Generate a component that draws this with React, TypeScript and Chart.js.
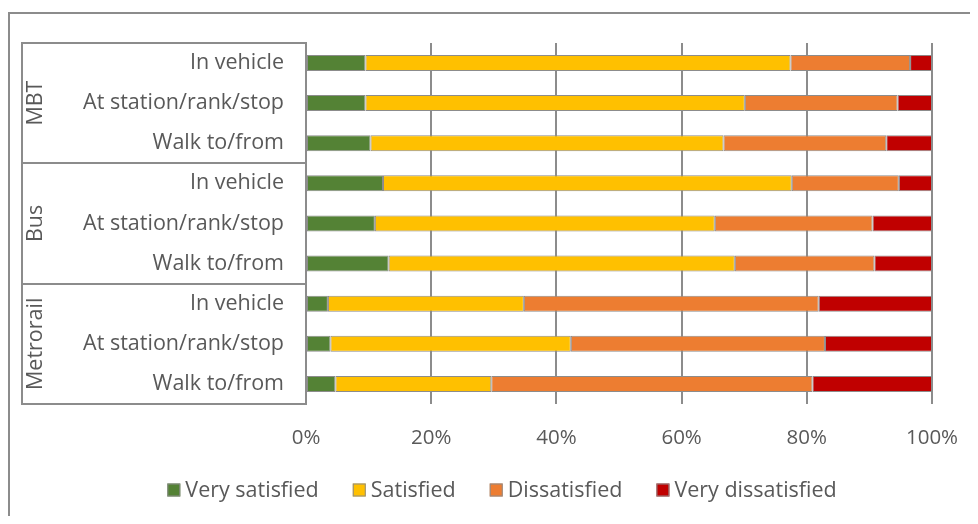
import React, { useEffect, useRef } from "react";
import { Chart, registerables } from "chart.js";

Chart.register(...registerables);

// Rows of the stacked bars, top to bottom
const categories = [
  "In vehicle", "At station/rank/stop", "Walk to/from",
  "In vehicle", "At station/rank/stop", "Walk to/from",
  "In vehicle", "At station/rank/stop", "Walk to/from",
];
// Transport modes, each spanning three consecutive rows
const groups = ["MBT", "Bus", "Metrorail"];
const rowsPerGroup = 3;

// Shares of respondents (%)
const verySatisfied = [9.5, 9.5, 10.3, 12.3, 11.0, 13.2, 3.5, 3.9, 4.7];
const satisfied = [67.9, 60.6, 56.4, 65.3, 54.3, 55.3, 31.3, 38.4, 24.9];
const dissatisfied = [19.1, 24.4, 26.0, 17.1, 25.2, 22.3, 47.1, 40.6, 51.3];
const veryDissatisfied = [3.5, 5.5, 7.3, 5.3, 9.5, 9.2, 18.1, 17.1, 19.1];

const seriesNames = ["Very satisfied", "Satisfied", "Dissatisfied", "Very dissatisfied"];
const seriesColors = ["#548235", "#FFC000", "#ED7D31", "#C00000"];

const xTicks = [0, 20, 40, 60, 80, 100];

const FONT = "'Open Sans', Lato, sans-serif";
const FONT_SIZE = 21.5;
const TICK_SIZE = 20.5;
const TEXT = "#595959";
const LINE = "#8c8c8c";
const W = 962;
const H = 508;

// Outer frame, grouped category axis and legend drawn around the plot
const decorations = {
  id: "decorations",
  beforeDraw(chart: any) {
    const ctx = chart.ctx;
    ctx.save();
    ctx.fillStyle = "#ffffff";
    ctx.fillRect(0, 0, W, H);
    ctx.strokeStyle = LINE;
    ctx.lineWidth = 2;
    ctx.beginPath();
    ctx.moveTo(1, H);
    ctx.lineTo(1, 5);
    ctx.lineTo(W, 5);
    ctx.stroke();
    ctx.restore();
  },
  afterDraw(chart: any) {
    const ctx = chart.ctx;
    const y = chart.scales.y;
    const area = chart.chartArea;
    const leftX = 14;
    ctx.save();
    ctx.strokeStyle = LINE;
    ctx.lineWidth = 2;
    ctx.beginPath();
    ctx.moveTo(leftX, area.top);
    ctx.lineTo(leftX, area.bottom);
    for (let g = 0; g <= groups.length; g++) {
      const yy = Math.round(area.top + (g * rowsPerGroup * (area.bottom - area.top)) / categories.length);
      ctx.moveTo(leftX - 1, yy);
      ctx.lineTo(area.left, yy);
    }
    ctx.stroke();

    // Group names, rotated
    ctx.fillStyle = TEXT;
    ctx.font = `${FONT_SIZE}px ${FONT}`;
    ctx.textAlign = "center";
    ctx.textBaseline = "middle";
    groups.forEach((name, g) => {
      const first = y.getPixelForValue(g * rowsPerGroup);
      const last = y.getPixelForValue(g * rowsPerGroup + rowsPerGroup - 1);
      ctx.save();
      ctx.translate(28, (first + last) / 2);
      ctx.rotate(-Math.PI / 2);
      ctx.fillText(name, 0, 0);
      ctx.restore();
    });

    // Legend
    const box = 13;
    const gapBoxText = 5;
    const gapItems = 34;
    ctx.font = `${FONT_SIZE}px ${FONT}`;
    ctx.textAlign = "left";
    const widths = chart.data.datasets.map((d: any) => box + gapBoxText + ctx.measureText(d.label).width);
    const total = widths.reduce((a: number, b: number) => a + b, 0) + gapItems * (widths.length - 1);
    let x = 494 - total / 2;
    const cy = 482;
    chart.data.datasets.forEach((d: any, i: number) => {
      ctx.fillStyle = d.backgroundColor;
      ctx.fillRect(x, cy - box / 2, box, box);
      ctx.strokeStyle = LINE;
      ctx.lineWidth = 1;
      ctx.strokeRect(x + 0.5, cy - box / 2 + 0.5, box - 1, box - 1);
      ctx.fillStyle = TEXT;
      ctx.fillText(d.label, x + box + gapBoxText, cy + 1);
      x += widths[i] + gapItems;
    });
    ctx.restore();
  },
};

export default function App() {
  const canvasRef = useRef<HTMLCanvasElement | null>(null);

  useEffect(() => {
    const canvas = canvasRef.current;
    if (!canvas) return;
    const values = [verySatisfied, satisfied, dissatisfied, veryDissatisfied];
    const chart = new Chart(canvas, {
      type: "bar",
      data: {
        labels: categories,
        datasets: seriesNames.map((label, i) => ({
          label,
          data: values[i],
          backgroundColor: seriesColors[i],
          borderColor: LINE,
          borderWidth: 1,
          borderSkipped: false,
          barPercentage: 0.4,
          categoryPercentage: 1,
        })),
      },
      options: {
        indexAxis: "y",
        animation: false,
        responsive: false,
        maintainAspectRatio: false,
        devicePixelRatio: 1,
        layout: { padding: { top: 34, right: 38, left: 0, bottom: 52 } },
        plugins: {
          legend: { display: false },
          tooltip: { enabled: false },
        },
        scales: {
          x: {
            stacked: true,
            min: 0,
            max: 100,
            afterBuildTicks(scale: any) {
              scale.ticks = xTicks.map((v) => ({ value: v }));
            },
            afterFit(scale: any) {
              scale.height = 60;
              scale.paddingLeft = 0;
              scale.paddingRight = 0;
            },
            grid: { color: LINE, lineWidth: 2, drawTicks: false },
            border: { display: false },
            ticks: {
              padding: 22,
              color: TEXT,
              font: { family: FONT, size: TICK_SIZE },
              callback: (v: any) => `${v}%`,
            },
          },
          y: {
            stacked: true,
            afterFit(scale: any) {
              scale.width = 298;
            },
            grid: { display: false, drawTicks: false },
            border: { display: true, color: LINE, width: 2 },
            ticks: {
              padding: 22,
              color: TEXT,
              font: { family: FONT, size: FONT_SIZE },
              autoSkip: false,
            },
          },
        },
      },
      plugins: [decorations],
    });
    return () => chart.destroy();
  }, []);

  return (
    <div style={{ position: "relative", width: W, height: H, overflow: "hidden" }}>
      <canvas ref={canvasRef} width={W} height={H} style={{ display: "block", width: W, height: H }} />
    </div>
  );
}
